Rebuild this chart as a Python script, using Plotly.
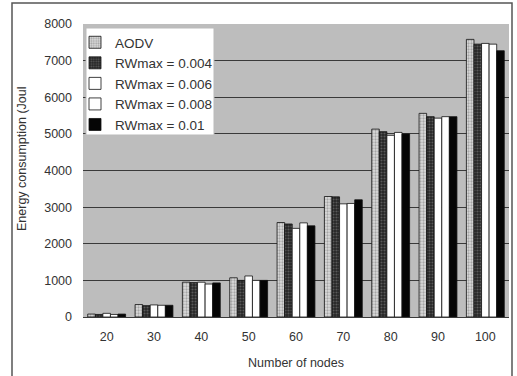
import plotly.graph_objects as go

# Number of nodes on the x axis
nodes = ["20", "30", "40", "50", "60", "70", "80", "90", "100"]

# Energy consumption per protocol setting
aodv     = [80, 340, 950, 1070, 2580, 3290, 5130, 5560, 7580]
rw_0004  = [70, 310, 940, 1000, 2540, 3280, 5060, 5470, 7450]
rw_0006  = [100, 330, 950, 1120, 2420, 3090, 4960, 5430, 7470]
rw_0008  = [70, 320, 900, 1000, 2570, 3100, 5040, 5470, 7450]
rw_001   = [80, 320, 930, 1000, 2490, 3200, 5000, 5470, 7270]

series_names = ["AODV", "RWmax = 0.004", "RWmax = 0.006", "RWmax = 0.008", "RWmax = 0.01"]
y_ticks = [0, 1000, 2000, 3000, 4000, 5000, 6000, 7000, 8000]

styles = [
    dict(color="#d6d6d6", pattern=dict(shape=".", fgcolor="#6e6e6e", bgcolor="#dcdcdc", size=3, solidity=0.45)),
    dict(color="#2a2a2a", pattern=dict(shape=".", fgcolor="#8c8c8c", bgcolor="#262626", size=3, solidity=0.4)),
    dict(color="#ffffff"),
    dict(color="#ffffff"),
    dict(color="#050505"),
]

fig = go.Figure()
for name, vals, st in zip(series_names, [aodv, rw_0004, rw_0006, rw_0008, rw_001], styles):
    fig.add_trace(go.Bar(
        x=nodes, y=vals, name=name,
        marker=dict(line=dict(color="#111111", width=0.8), **st),
    ))

W, H = 517, 376
L, R, T, B = 83, 8, 24, 59
pw, ph = W - L - R, H - T - B

def px_x(p):
    return (p - L) / pw

def px_y(p):
    return (H - B - p) / ph

font = "Liberation Sans, Arial, sans-serif"

fig.update_layout(
    width=W, height=H,
    margin=dict(l=L, r=R, t=T, b=B),
    paper_bgcolor="white",
    plot_bgcolor="#bdbdbd",
    barmode="group",
    bargap=0.2,
    bargroupgap=0,
    font=dict(family=font, size=12, color="#333333"),
    showlegend=True,
    legend=dict(
        x=px_x(75), y=px_y(27), xanchor="left", yanchor="top",
        bgcolor="rgba(0,0,0,0)", borderwidth=0,
        font=dict(size=13.5, color="#333333"),
        traceorder="normal",
    ),
    xaxis=dict(
        showgrid=False, ticks="", showline=False,
        automargin=False,
        ticklabelstandoff=10,
        title=dict(text="Number of nodes", font=dict(size=12.5, color="#333333"), standoff=15),
        tickfont=dict(size=12.5, color="#333333"),
    ),
    yaxis=dict(
        range=[0, 8000], tickvals=y_ticks, ticktext=[str(v) for v in y_ticks],
        showgrid=True, gridcolor="#3a3a3a", gridwidth=1,
        zeroline=True, zerolinecolor="#3a3a3a", zerolinewidth=1,
        ticks="", showline=False,
        automargin=False,
        ticklabelstandoff=10,
        tickfont=dict(size=12.5, color="#333333"),
    ),
    shapes=[
        # white legend panel
        dict(type="rect", xref="paper", yref="paper",
             x0=px_x(86), x1=px_x(214), y0=px_y(135), y1=px_y(28),
             fillcolor="white", line=dict(color="#bbbbbb", width=1), layer="above"),
        # outer frame of the figure
        dict(type="rect", xref="paper", yref="paper",
             x0=px_x(12), x1=px_x(512), y0=px_y(390), y1=px_y(3),
             fillcolor="rgba(0,0,0,0)", line=dict(color="#555555", width=1.5)),
    ],
    annotations=[
        dict(text="Energy consumption (Joul", xref="paper", yref="paper",
             x=px_x(22), y=px_y(158), textangle=-90, showarrow=False,
             font=dict(size=12.5, color="#333333"), xanchor="center", yanchor="middle"),
    ],
)

fig.write_html("out.html")
